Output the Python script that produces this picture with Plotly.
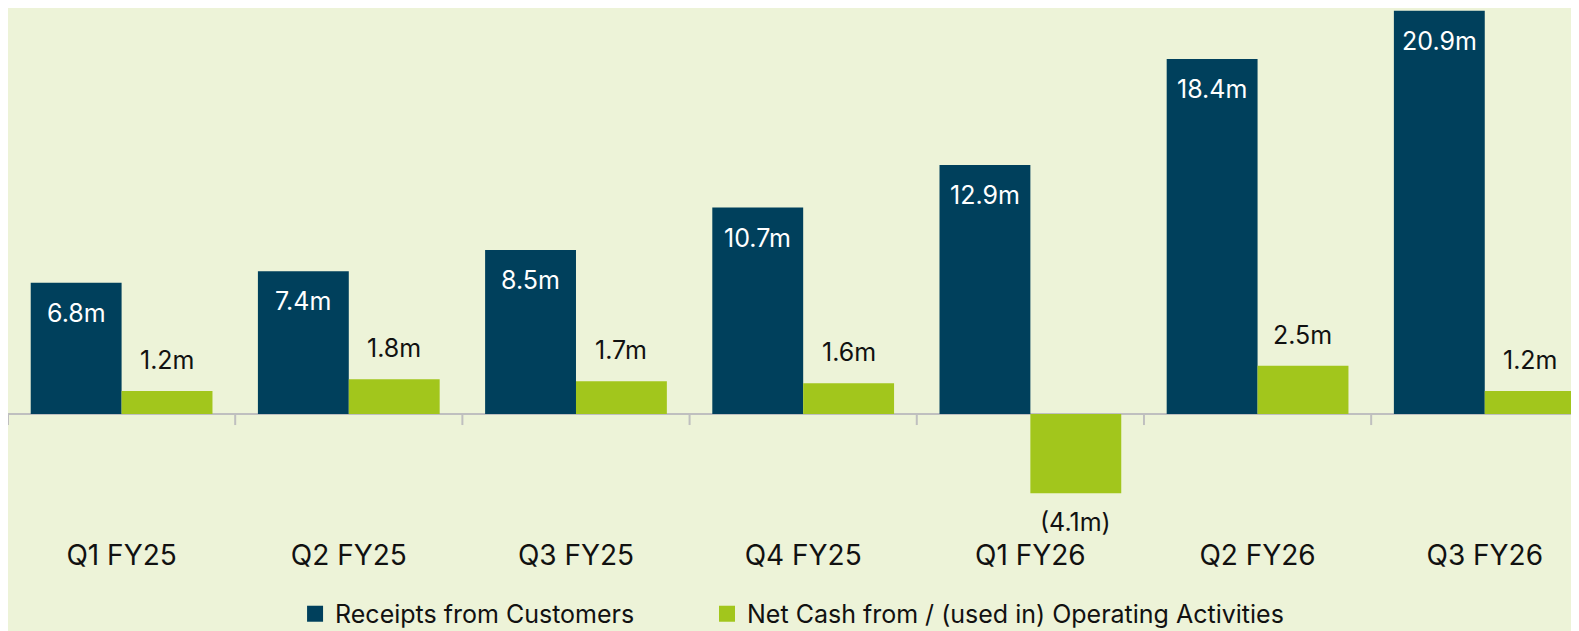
import plotly.graph_objects as go

categories = ["Q1 FY25", "Q2 FY25", "Q3 FY25", "Q4 FY25", "Q1 FY26", "Q2 FY26", "Q3 FY26"]
receipts = [6.8, 7.4, 8.5, 10.7, 12.9, 18.4, 20.9]
net_cash = [1.2, 1.8, 1.7, 1.6, -4.1, 2.5, 1.2]
series_names = ["Receipts from Customers", "Net Cash from / (used in) Operating Activities"]

NAVY = "#00405C"
LIME = "#A2C61C"
BG = "#EDF3D8"
AXIS = "#BFBFBF"
FONT = "Inter"


def fmt(v):
    return f"({abs(v):.1f}m)" if v < 0 else f"{v:.1f}m"


fig = go.Figure()
fig.add_trace(go.Bar(x=categories, y=receipts, marker=dict(color=NAVY, line=dict(width=0)),
                     showlegend=False, hoverinfo="skip"))
fig.add_trace(go.Bar(x=categories, y=net_cash, marker=dict(color=LIME, line=dict(width=0)),
                     showlegend=False, hoverinfo="skip"))
# legend entries (one legend each so they can be placed independently)
for name, col, lg in zip(series_names, [NAVY, LIME], ["legend", "legend2"]):
    fig.add_trace(go.Scatter(x=[None], y=[None], mode="markers", name=name, legend=lg,
                             marker=dict(symbol="square", size=18, color=col)))

annotations = []
for c, v in zip(categories, receipts):
    annotations.append(dict(x=c, y=v, xref="x", yref="y", text=fmt(v), showarrow=False,
                            xshift=-45.4, yshift=-30,
                            font=dict(family=FONT, size=25, color="white")))
for c, v in zip(categories, net_cash):
    annotations.append(dict(x=c, y=v, xref="x", yref="y", text=fmt(v), showarrow=False,
                            xshift=45.4, yshift=31 if v >= 0 else -29,
                            font=dict(family=FONT, size=25, color="#111111")))

shapes = []
for i in range(len(categories) + 1):
    shapes.append(dict(type="line", xref="x", yref="y", ysizemode="pixel", yanchor=0,
                       x0=i - 0.5, x1=i - 0.5, y0=0, y1=-11,
                       line=dict(color=AXIS, width=2), layer="above"))

legend_style = dict(orientation="h", yanchor="middle", y=-0.1477, xanchor="left",
                    font=dict(family=FONT, size=25, color="#111111"),
                    bgcolor="rgba(0,0,0,0)")

fig.update_layout(
    width=1579, height=631,
    paper_bgcolor=BG, plot_bgcolor=BG,
    margin=dict(l=0, r=0, t=0, b=103),
    barmode="group", bargap=0.2, bargroupgap=0,
    font=dict(family=FONT, color="#111111"),
    annotations=annotations, shapes=shapes,
    legend=dict(x=0.1818, **legend_style),
    legend2=dict(x=0.4427, **legend_style),
    xaxis=dict(range=[-0.5, 6.45], showgrid=False, showline=False, ticks="",
               tickfont=dict(family=FONT, size=28, color="#111111"), fixedrange=True),
    yaxis=dict(range=[-6.32, 21.04], showgrid=False, showticklabels=False,
               zeroline=True, zerolinecolor=AXIS, zerolinewidth=2, fixedrange=True),
)

fig.write_html("out.html")
